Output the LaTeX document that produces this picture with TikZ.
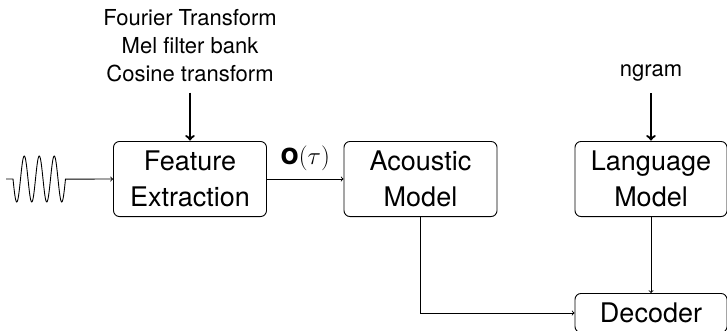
\documentclass[tikz,border=0pt]{standalone}
\usepackage{fontspec}
\setmainfont{TeX Gyre Heros}
\tikzset{
  block/.style={draw, line width=0.9pt, rounded corners=6pt, align=center,
    minimum width=153pt, inner ysep=9.5pt, font=\fontsize{27}{36}\selectfont},
  steps/.style={align=center, font=\fontsize{22}{28.3}\selectfont},
  feed/.style={->, line width=2.3pt},
  flow/.style={->, line width=0.9pt},
}
\begin{document}
\begin{tikzpicture}[x=1pt,y=-1pt]
\useasboundingbox (0,0) rectangle (727,330);

\node[block] (feat) at (190,179) {Feature\\Extraction};
\node[block] (acou) at (420.5,179) {Acoustic\\Model};
\node[block, minimum width=152pt] (lang) at (651,179) {Language\\Model};
\node[block, minimum width=152pt] (dec) at (651,313) {Decoder};

\node[steps] (fext) at (190,45.5) {Fourier Transform\\Mel filter bank\\Cosine transform};
\node[steps, anchor=base] (ngr) at (651,76) {ngram};

\coordinate (sig) at (6,179);
\draw[flow] (sig) -- (13,179) -- plot[domain=0:3.5, samples=140, smooth]
  ({13+15*\x},{179+23*sin(360*\x)}) -- (feat);

\draw[feed, shorten <=7pt, shorten >=0.5pt] (fext) -- (feat);
\draw[feed, shorten <=9pt, shorten >=0.5pt] (ngr) -- (lang);

\draw[flow] (feat) -- node[above=4.7pt, font=\fontsize{30}{36}\selectfont] {$\mathbf{o}(\tau)$} (acou);
\draw[flow] (acou) |- (dec);
\draw[flow] (lang) -- (dec);
\end{tikzpicture}
\end{document}
